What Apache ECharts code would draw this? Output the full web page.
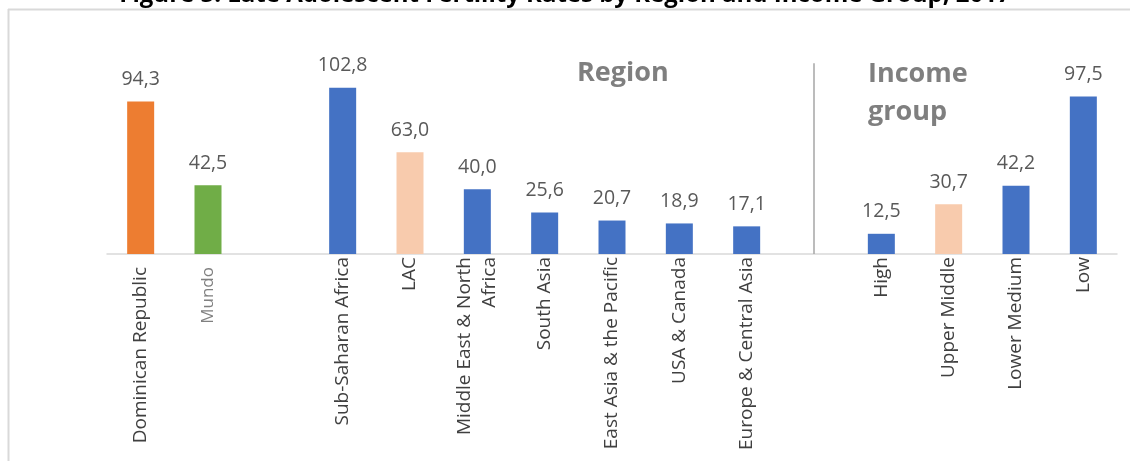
<!DOCTYPE html>
<html>
<head>
<meta charset="utf-8">
<title>Late Adolescent Fertility Rates by Region and Income Group, 2017</title>
<script src="https://cdn.jsdelivr.net/npm/echarts@6/dist/echarts.min.js"></script>
<style>
  html, body { margin: 0; padding: 0; background: #ffffff; }
  #chart { width: 1130px; height: 461px; }
</style>
</head>
<body>
<div id="chart"></div>
<script>
// Categories along the x axis; the two blank slots separate the groups.
const categories = [
  'Dominican Republic', 'Mundo', '',
  'Sub-Saharan Africa', 'LAC', 'Middle East & North\nAfrica', 'South Asia',
  'East Asia & the Pacific', 'USA & Canada', 'Europe & Central Asia', ' ',
  'High', 'Upper Middle', 'Lower Medium', 'Low'
];

// Births per 1,000 women (late adolescents), 2017
const rates = [
  94.3, 42.5, null,
  102.8, 63.0, 40.0, 25.6,
  20.7, 18.9, 17.1, null,
  12.5, 30.7, 42.2, 97.5
];

// Group headings
const groupTitles = ['Region', 'Income\ngroup'];
const chartTitle = 'Figure 5: Late Adolescent Fertility Rates by Region and Income Group, 2017';

// Bar fill per category
const ORANGE = '#ED7D31', GREEN = '#70AD47', BLUE = '#4472C4', PEACH = '#F8CBAD';
const barColors = [
  ORANGE, GREEN, null,
  BLUE, PEACH, BLUE, BLUE,
  BLUE, BLUE, BLUE, null,
  BLUE, PEACH, BLUE, BLUE
];

const FONT = '"Open Sans", "Noto Sans", sans-serif';
const fmt = v => v.toFixed(1).replace('.', ',');

const chart = echarts.init(document.getElementById('chart'), null, { renderer: 'canvas' });

chart.setOption({
  backgroundColor: '#ffffff',
  animation: false,
  textStyle: { fontFamily: FONT },
  grid: { left: 107, right: 13, top: 60, bottom: 207, containLabel: false },
  xAxis: {
    type: 'category',
    data: categories,
    axisLine: { show: true, lineStyle: { color: '#d9d9d9', width: 1.5 } },
    axisTick: { show: false },
    axisLabel: {
      interval: 0,
      rotate: 90,
      margin: 3,
      fontSize: 19,
      color: '#404040',
      fontFamily: FONT,
      lineHeight: 25,
      formatter: (value, idx) => {
        if (idx === 0) return '{far|' + value + '}';
        if (idx === 1) return '{mundo|' + value + '}';
        return value;
      },
      rich: {
        far: { fontSize: 19, color: '#404040', fontFamily: FONT, padding: [0, 10, 0, 0] },
        mundo: { fontSize: 17, color: '#808080', fontFamily: FONT, padding: [0, 10, 0, 0] }
      }
    }
  },
  yAxis: {
    type: 'value',
    min: 0,
    max: 120,
    show: false,
    splitLine: { show: false }
  },
  graphic: [
    // frame
    { type: 'line', shape: { x1: 8.5, y1: 9, x2: 8.5, y2: 461 }, style: { stroke: '#d9d9d9', lineWidth: 2 }, silent: true },
    { type: 'line', shape: { x1: 8, y1: 9.5, x2: 1130, y2: 9.5 }, style: { stroke: '#d9d9d9', lineWidth: 2 }, silent: true },
    // title (partly above the frame)
    { type: 'text', left: 'center', top: -17,
      style: { text: chartTitle, font: 'bold 24px ' + FONT, fill: '#000000' } },
    // group headings
    { type: 'text', left: 577, top: 60,
      style: { text: groupTitles[0], font: 'bold 27px ' + FONT, fill: '#7f7f7f' } },
    { type: 'text', left: 868, top: 55,
      style: { text: groupTitles[1], font: 'bold 27px ' + FONT, fill: '#7f7f7f', lineHeight: 38 } }
  ],
  series: [{
    type: 'bar',
    barWidth: 27,
    data: rates.map((v, i) => ({ value: v, itemStyle: { color: barColors[i] } })),
    label: {
      show: true,
      position: 'top',
      distance: 12,
      fontSize: 19.5,
      color: '#595959',
      fontFamily: FONT,
      formatter: p => (p.value == null ? '' : fmt(p.value))
    },
    markLine: {
      silent: true,
      symbol: 'none',
      label: { show: false },
      lineStyle: { color: '#a6a6a6', width: 1.5, type: 'solid' },
      data: [[{ coord: [10, 118] }, { coord: [10, 0] }]]
    }
  }]
});
</script>
</body>
</html>
